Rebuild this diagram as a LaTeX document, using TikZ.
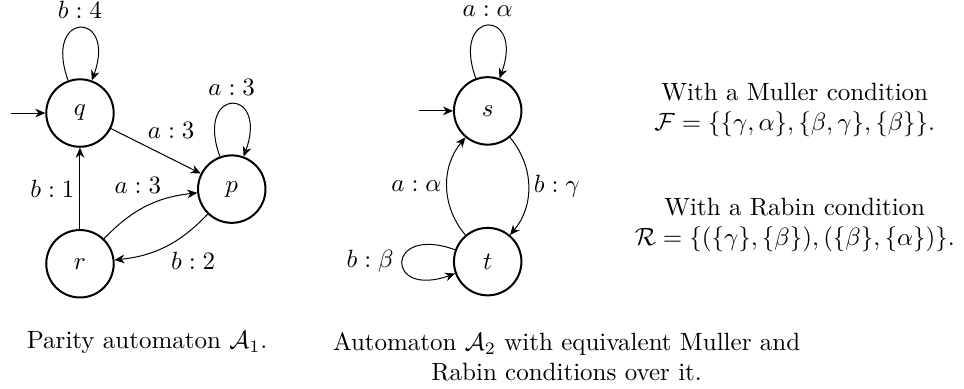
\documentclass[tikz,border=0pt]{standalone}
\usepackage{amsmath}
\usepackage{amssymb}
\usetikzlibrary{positioning, arrows.meta}

\begin{document}
\begin{tikzpicture}[
    autstate/.style={circle, draw, thick, minimum size=27pt, inner sep=0pt},
    trans/.style={-{Stealth[length=4pt, width=3.5pt]}, thin},
    selfloop/.style={loop, min distance=10.5mm},
    lab/.style={auto, inner sep=2pt},
    info/.style={align=center}
]
  \useasboundingbox (0,0) rectangle (13.56,5.47);

  % Parity automaton A1
  \node[autstate] (q) at (1.125,3.88) {$q$};
  \node[autstate] (p) at (3.26,2.81) {$p$};
  \node[autstate] (r) at (1.125,1.76) {$r$};
  \coordinate (qin) at (0.15,3.88);

  \draw[trans] (qin) -- (q);
  \draw[trans] (q) to[selfloop, out=110, in=70] node[above] (lq) {$b:4$} (q);
  \draw[trans] (p) to[selfloop, out=110, in=70] node[above] (lp) {$a:3$} (p);
  \draw[trans] (q) -- node[lab, pos=0.35] (lqp) {$a:3$} (p);
  \draw[trans] (r) -- node[lab] (lrq) {$b:1$} (q);
  \draw[trans] (r) to[bend left=20] node[lab, pos=0.72] (lrp) {$a:3$} (p);
  \draw[trans] (p) to[bend left=20] node[lab] (lpr) {$b:2$} (r);

  % Automaton A2
  \node[autstate] (s) at (6.86,3.91) {$s$};
  \node[autstate] (t) at (6.86,1.79) {$t$};
  \coordinate (sin) at (5.89,3.91);

  \draw[trans] (sin) -- (s);
  \draw[trans] (s) to[selfloop, out=110, in=70] node[above] (ls) {$a:\alpha$} (s);
  \draw[trans] (t) to[selfloop, out=160, in=200] node[left] (lt) {$b:\beta$} (t);
  \draw[trans] (s) to[bend left=40] node[lab] (lst) {$b:\gamma$} (t);
  \draw[trans] (t) to[bend left=40] node[lab] (lts) {$a:\alpha$} (s);

  % Acceptance conditions
  \node[info] (muller) at (11.18,3.92)
    {With a Muller condition\\ $\mathcal{F}=\{\{\gamma,\alpha\},\{\beta,\gamma\},\{\beta\}\}$.};
  \node[info] (rabin) at (11.18,2.31)
    {With a Rabin condition\\ $\mathcal{R}=\{(\{\gamma\},\{\beta\}),(\{\beta\},\{\alpha\})\}$.};

  % Captions
  \node[info] (cap1) at (2.07,0.65) {Parity automaton $\mathcal{A}_1$.};
  \node[info] (cap2) at (7.97,0.45)
    {Automaton $\mathcal{A}_2$ with equivalent Muller and\\ Rabin conditions over it.};
\end{tikzpicture}
\end{document}
